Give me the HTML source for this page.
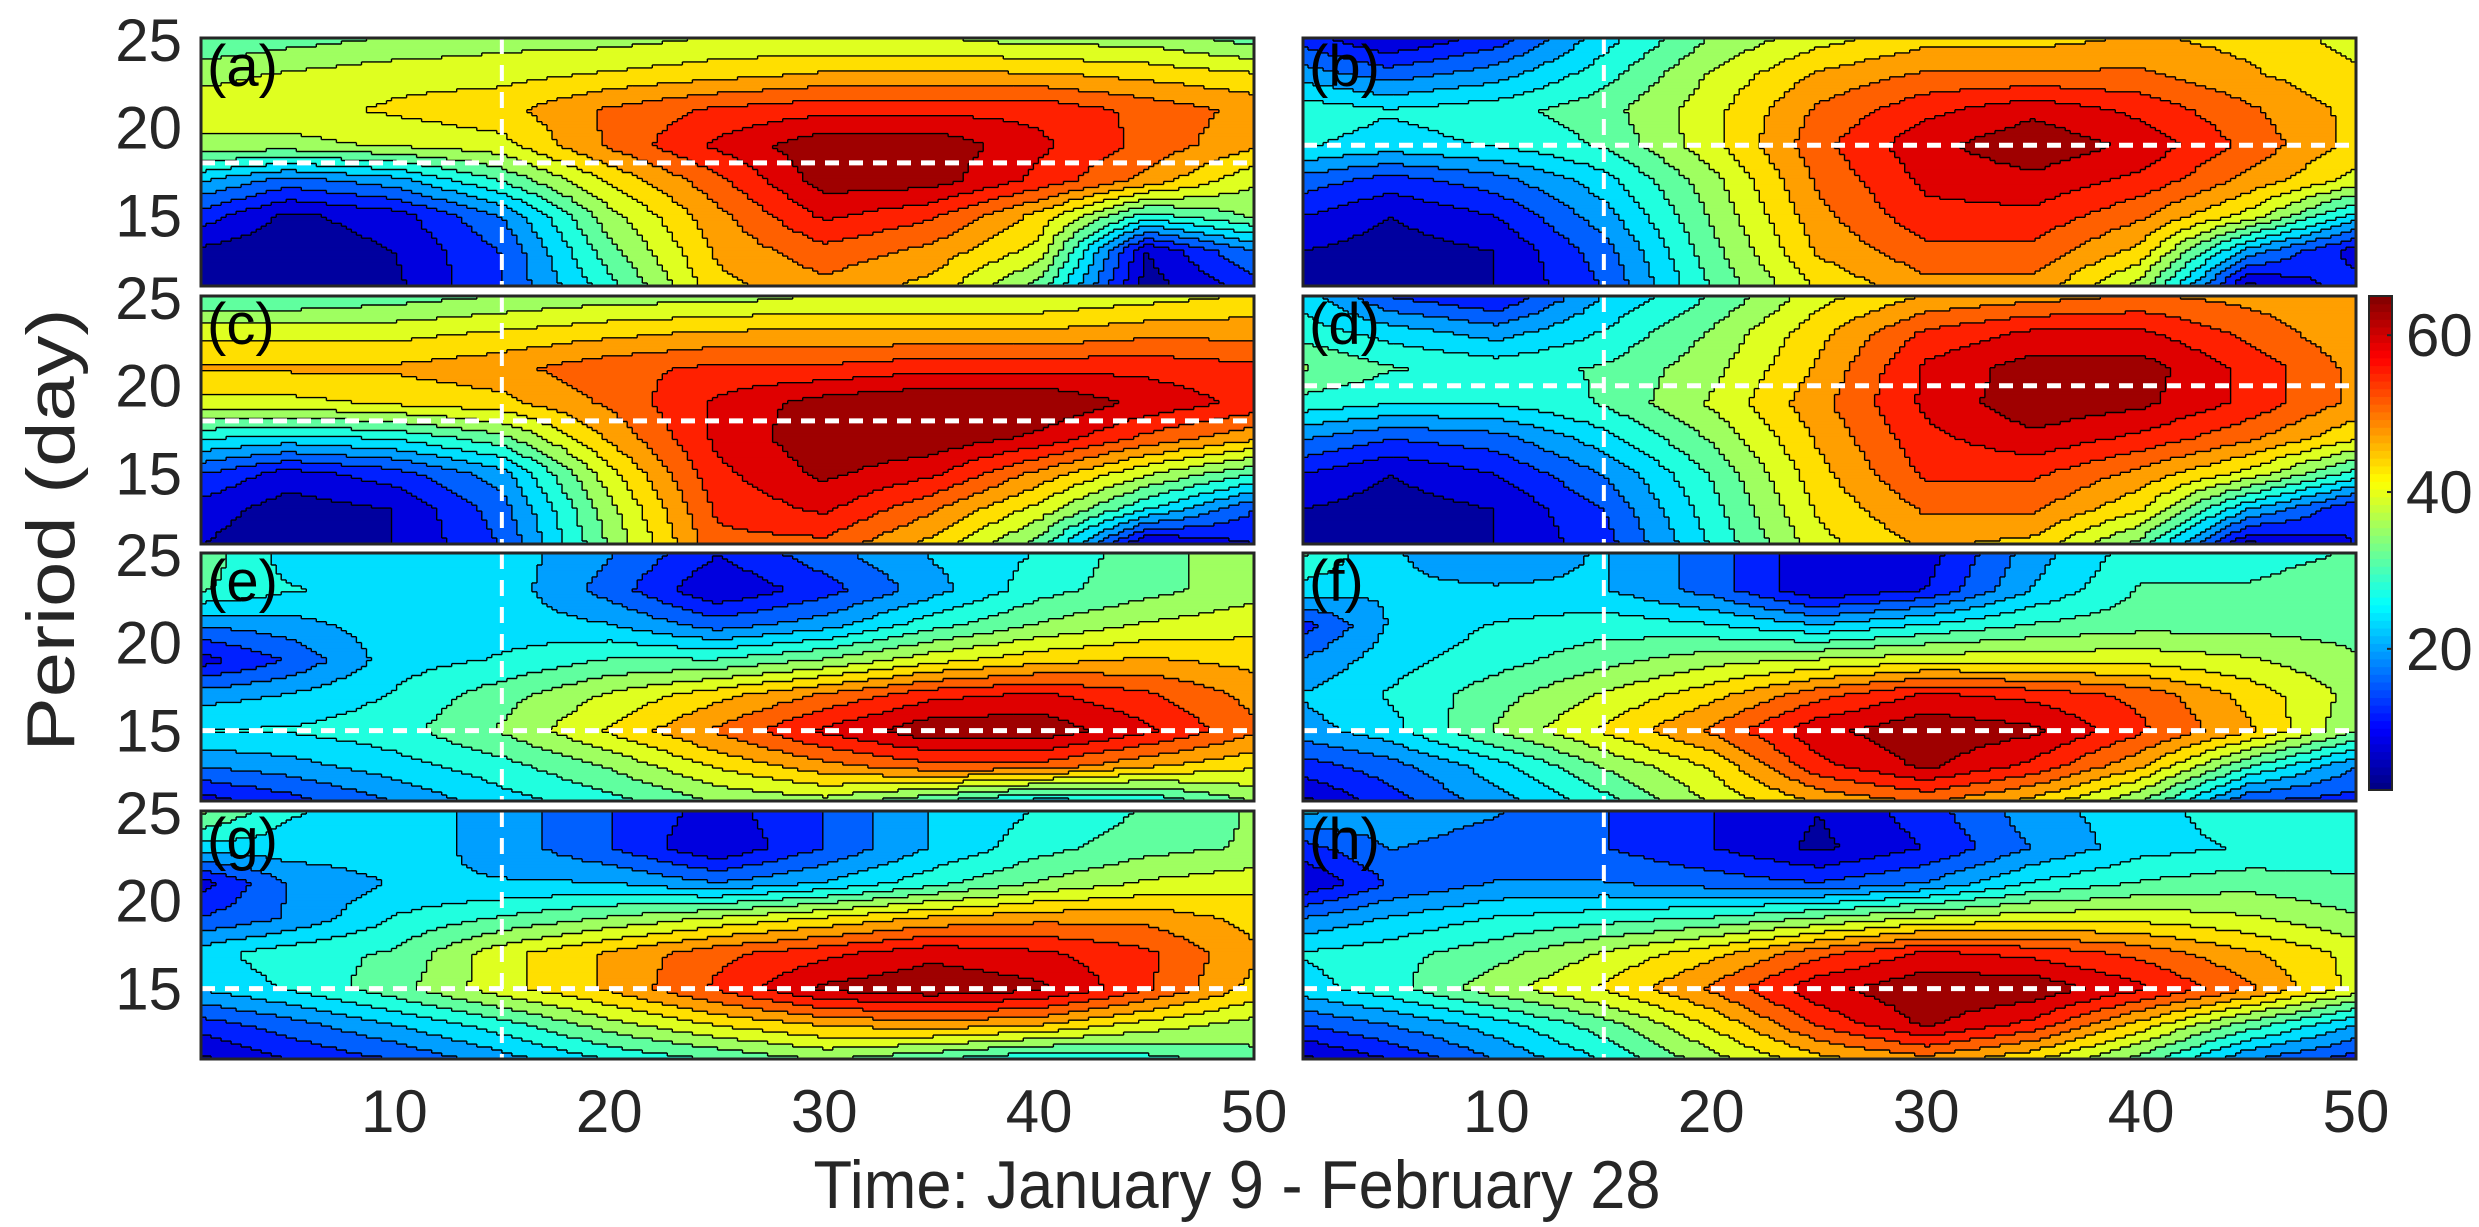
<!DOCTYPE html>
<html><head><meta charset="utf-8">
<style>
html,body{margin:0;padding:0;background:#fff;}
svg{display:block;font-family:"Liberation Sans",sans-serif;}
</style></head>
<body>
<svg id="fig" width="2479" height="1227" viewBox="0 0 2479 1227" xmlns="http://www.w3.org/2000/svg">
<rect x="0" y="0" width="2479" height="1227" fill="#fff"/>
</svg>
<script>
// ---- data ----
const times = [1,5,10,15,20,25,30,35,40,45,50];
const periods = [25,23,21,19,17,15,13,11];
const panelLabels = ['(a)','(b)','(c)','(d)','(e)','(f)','(g)','(h)'];
const refPeriod = [18,19,18,20,15,15,15,15];
const refTime = 15;
const xTicks = [10,20,30,40,50];
const yTicks = [25,20,15];
const cbTicks = [20,40,60];
const panelA = [
[30,32,34,36,36,38,38,38,36,36,32],
[36,38,40,40,42,44,46,46,46,44,42],
[40,40,42,44,50,54,56,56,56,52,48],
[36,36,38,40,50,58,64,64,58,52,46],
[22,16,20,30,42,52,63,63,56,48,38],
[12,5,8,18,36,48,58,54,44,28,34],
[5,3,6,14,32,46,52,48,40,6,18],
[4,3,5,14,28,44,48,44,32,4,12]];
const panelB = [
[12,6,12,24,34,40,44,44,46,44,40],
[20,16,20,28,38,46,50,50,50,46,42],
[28,26,28,32,40,50,56,60,56,50,44],
[26,24,26,30,40,52,60,64,60,52,44],
[16,12,16,24,36,50,58,60,56,48,40],
[10,6,10,20,34,48,56,56,50,40,24],
[6,4,6,16,32,46,52,52,44,20,8],
[4,3,6,14,30,42,48,48,36,5,12]];
const panelC = [
[30,30,32,34,36,36,38,38,38,40,42],
[40,40,40,42,44,46,46,46,46,48,48],
[46,46,46,48,52,54,54,56,56,56,54],
[40,40,42,44,50,58,63,65,65,60,56],
[26,24,26,32,46,58,64,64,60,52,46],
[14,8,12,20,40,56,62,58,48,38,30],
[8,4,6,16,36,54,58,50,40,26,14],
[6,3,6,14,34,52,52,44,32,5,10]];
const panelD = [
[24,14,10,22,30,40,46,48,50,48,46],
[28,24,20,26,34,44,54,58,58,52,46],
[34,30,28,30,36,46,58,63,63,56,48],
[28,26,26,30,38,48,58,64,62,56,48],
[18,14,16,24,34,46,56,60,56,50,42],
[10,6,10,18,30,44,54,54,48,40,28],
[6,4,6,14,28,42,50,50,42,22,10],
[4,3,6,12,26,40,46,44,32,5,10]];
const panelE = [
[32,24,24,24,18,10,16,22,26,32,36],
[30,26,24,24,16,6,12,20,28,32,36],
[18,20,24,24,22,16,20,28,34,38,40],
[8,14,24,26,30,30,34,40,44,46,44],
[20,22,26,32,38,44,50,56,58,54,48],
[26,26,28,34,42,50,58,64,64,58,50],
[18,20,24,28,34,42,48,52,52,46,42],
[8,12,18,24,28,34,36,30,24,26,34]];
const panelF = [
[30,22,20,22,16,6,8,20,28,28,30],
[24,22,22,22,16,6,10,22,30,30,32],
[12,22,26,28,26,22,26,30,32,32,32],
[18,24,28,32,36,38,40,40,40,38,34],
[22,26,32,38,44,52,58,56,52,44,36],
[20,24,34,42,50,60,64,62,54,46,34],
[12,16,24,34,42,56,62,56,46,30,18],
[5,12,20,28,38,46,50,44,34,14,12]];
const panelG = [
[34,26,24,20,14,8,14,22,26,30,34],
[24,24,24,20,14,6,14,22,28,32,34],
[8,18,22,22,22,18,22,28,34,38,40],
[14,18,26,30,34,38,42,46,48,48,44],
[24,28,30,40,46,52,56,60,58,54,46],
[22,26,32,40,46,54,62,64,62,54,44],
[12,16,22,28,36,42,46,48,46,40,36],
[5,10,14,20,26,30,34,30,26,28,32]];
const panelH = [
[22,20,18,14,10,6,12,20,24,28,28],
[12,18,16,14,10,5,10,18,24,26,28],
[6,14,18,18,16,14,18,26,30,32,30],
[18,22,26,28,30,34,38,40,40,38,34],
[26,28,32,38,44,52,58,56,52,46,40],
[24,28,36,42,50,60,64,64,58,50,40],
[14,18,24,32,42,54,62,56,44,32,22],
[5,10,18,26,36,44,48,42,32,18,12]];
const panels = [panelA,panelB,panelC,panelD,panelE,panelF,panelG,panelH];

// ---- layout ----
const NS='http://www.w3.org/2000/svg';
const svg=document.getElementById('fig');
const colX=[201,1303], PW=1053, rowY=[38,296,553,811], PH=248;
const tMin=1,tMax=50,pMin=11,pMax=25.1;
const vMin=2,vMax=65,NL=16;
function jet(t){const c=x=>Math.round(255*Math.max(0,Math.min(1,x)));
 return 'rgb('+c(1.5-Math.abs(4*t-3))+','+c(1.5-Math.abs(4*t-2))+','+c(1.5-Math.abs(4*t-1))+')';}
function levelOf(v){let k=Math.floor((v-vMin)/((vMax-vMin)/NL));return Math.max(0,Math.min(NL-1,k));}
function mk(tag,attrs,parent){const e=document.createElementNS(NS,tag);for(const k in attrs)e.setAttribute(k,attrs[k]);(parent||svg).appendChild(e);return e;}
function interp(grid,t,p){
 let i=0;while(i<times.length-2&&t>times[i+1])i++;
 let j=0;while(j<periods.length-2&&p<periods[j+1])j++;
 const ft=Math.max(0,Math.min(1,(t-times[i])/(times[i+1]-times[i])));
 const fp=Math.max(0,Math.min(1,(periods[j]-p)/(periods[j]-periods[j+1])));
 const a=grid[j][i],b=grid[j][i+1],c=grid[j+1][i],d=grid[j+1][i+1];
 return a*(1-ft)*(1-fp)+b*ft*(1-fp)+c*(1-ft)*fp+d*ft*fp;}

panels.forEach((grid,idx)=>{
 const x0=colX[idx%2], y0=rowY[Math.floor(idx/2)];
 const xs=t=>x0+(t-tMin)/(tMax-tMin)*PW;
 const ys=p=>y0+(pMax-p)/(pMax-pMin)*PH;
 const g=mk('g',{});
 
 
 const NX=210,NY=83, cw=PW/NX, ch=PH/NY;
 const L=[];
 for(let r=0;r<NY;r++){
  const p=pMax-(r+0.5)/NY*(pMax-pMin);
  const row=[];
  for(let c=0;c<NX;c++) row.push(levelOf(interp(grid,tMin+(c+0.5)/NX*(tMax-tMin),p)));
  L.push(row);
 }
 for(let r=0;r<NY;r++){
  let start=0;
  for(let c=1;c<=NX;c++){
   if(c===NX||L[r][c]!==L[r][start]){
    const cell=mk('rect',{x:(x0+start*cw).toFixed(2),y:(y0+r*ch).toFixed(2),width:((c-start)*cw+0.6).toFixed(2),height:(ch+0.6).toFixed(2),fill:jet((L[r][start]+0.5)/NL)},g);
    
    
    start=c;}
  }
 }
 let d='';
 for(let r=0;r<NY;r++)for(let c=0;c<NX;c++){
  if(c>0&&L[r][c]!==L[r][c-1]){const x=(x0+c*cw).toFixed(1);d+='M'+x+' '+(y0+r*ch).toFixed(1)+'V'+(y0+(r+1)*ch).toFixed(1);}
  if(r>0&&L[r][c]!==L[r-1][c]){const y=(y0+r*ch).toFixed(1);d+='M'+(x0+c*cw).toFixed(1)+' '+y+'H'+(x0+(c+1)*cw).toFixed(1);}
 }
 const cl=mk('path',{d:d,fill:'none',stroke:'#000','stroke-width':1.4},g);
 
 
 const vl=mk('line',{x1:xs(refTime),x2:xs(refTime),y1:y0,y2:y0+PH,stroke:'#fff','stroke-width':4,'stroke-dasharray':'16,11'});
 
 
 const hl=mk('line',{x1:x0,x2:x0+PW,y1:ys(refPeriod[idx]),y2:ys(refPeriod[idx]),stroke:'#fff','stroke-width':5,'stroke-dasharray':'14,10'});
 
 
 const bd=mk('rect',{x:x0,y:y0,width:PW,height:PH,fill:'none',stroke:'#262626','stroke-width':3});
 
 
 const lb=mk('text',{x:x0+6,y:y0+48,'font-size':58,fill:'#000'});
 lb.textContent=panelLabels[idx];
 
 
 if(idx%2===0){
  yTicks.forEach(v=>{
   const t=mk('text',{x:182,y:ys(v)+21,'font-size':60,'text-anchor':'end',fill:'#262626'});
   t.textContent=v;
   
   
  });
 }
 if(idx>=6){
  xTicks.forEach(v=>{
   const t=mk('text',{x:xs(v),y:1132,'font-size':60,'text-anchor':'middle',fill:'#262626'});
   t.textContent=v;
   
   
  });
 }
});

// colorbar
const cbX=2369,cbW=23,cbT=296,cbB=790;
const cbY=v=>cbB-(v-vMin)/(vMax-vMin)*(cbB-cbT);
const cbg=mk('g',{});


for(let k=0;k<64;k++){
 const r=mk('rect',{x:cbX,y:(cbB-(k+1)*(cbB-cbT)/64).toFixed(2),width:cbW,height:((cbB-cbT)/64+0.6).toFixed(2),fill:jet((k+0.5)/64)},cbg);
 
 
}
mk('rect',{x:cbX,y:cbT,width:cbW,height:cbB-cbT,fill:'none',stroke:'#262626','stroke-width':2},cbg);
cbTicks.forEach(v=>{
 mk('line',{x1:cbX+cbW-5,x2:cbX+cbW,y1:cbY(v),y2:cbY(v),stroke:'#262626','stroke-width':2},cbg);
 const t=mk('text',{x:2406,y:cbY(v)+21,'font-size':60,fill:'#262626'},cbg);
 t.textContent=v;
 
 
});

// axis titles
const yt=mk('text',{x:0,y:0,'font-size':68,'text-anchor':'middle',fill:'#262626',textLength:443,lengthAdjust:'spacingAndGlyphs',transform:'translate(74,530) rotate(-90)'});
yt.textContent='Period (day)';


const xt=mk('text',{x:1237,y:1208,'font-size':68,'text-anchor':'middle',fill:'#262626',textLength:847,lengthAdjust:'spacingAndGlyphs'});
xt.textContent='Time: January 9 - February 28';


</script>
</body></html>
